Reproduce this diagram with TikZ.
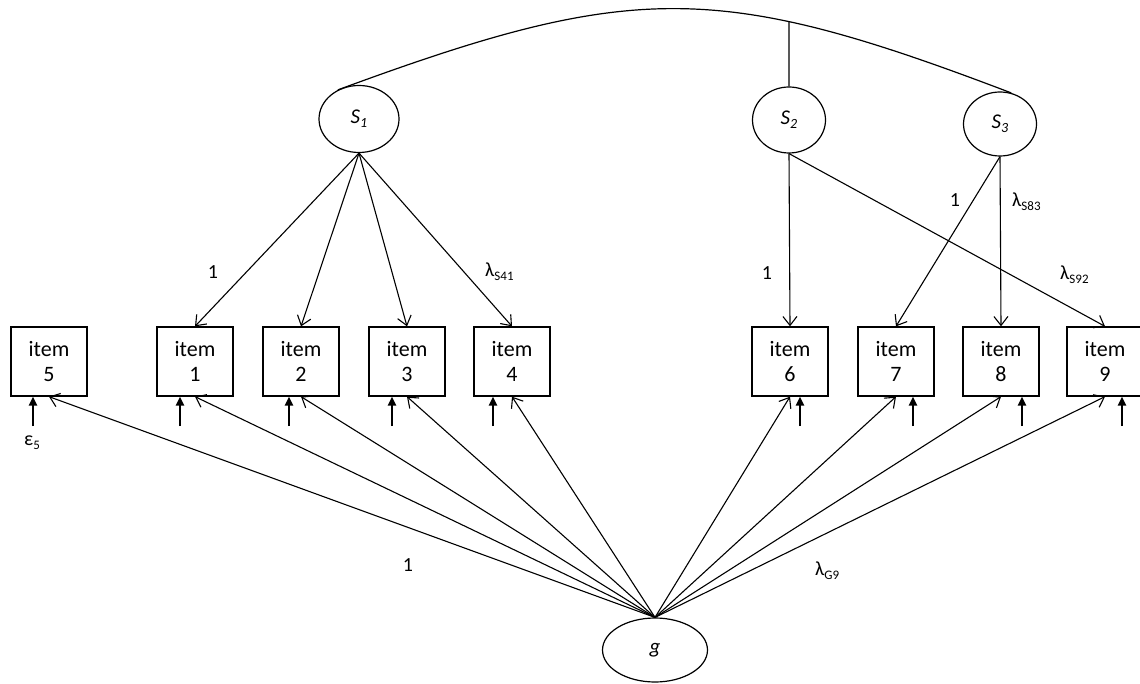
\documentclass[tikz,border=0pt]{standalone}
\usepackage{fontspec}
\setmainfont{Carlito}
\usetikzlibrary{arrows.meta,shapes.geometric,intersections}
\newcommand\lsub[1]{\raisebox{-0.45ex}{\fontsize{13}{13}\selectfont #1}}
\newcommand\ssub[1]{\raisebox{-0.4ex}{\fontsize{14}{14}\selectfont #1}}
\begin{document}
\begin{tikzpicture}[x=1pt,y=-1pt,
  item/.style={draw,line width=1.3pt,minimum width=76pt,minimum height=69pt,inner sep=0pt,align=center,font=\fontsize{22}{25}\selectfont},
  latent/.style={draw,ellipse,line width=1.2pt,inner sep=0pt,font=\fontsize{21}{22}\selectfont\itshape},
  load/.style={line width=1.1pt,-{Straight Barb[length=9pt,width=14pt,line width=1.1pt]}},
  err/.style={line width=2.4pt,-{Triangle[length=9pt,width=8pt]}},
  lbl/.style={font=\fontsize{20}{22}\selectfont,inner sep=0pt},
  cov/.style={line width=1.2pt},
]
\useasboundingbox (0,0) rectangle (1140,684);

% latent factors
\node[latent,minimum width=80pt,minimum height=67pt] (S1) at (359,119) {S\ssub{1}};
\node[latent,minimum width=73pt,minimum height=66pt] (S2) at (789,120) {S\ssub{2}};
\node[latent,minimum width=73pt,minimum height=64pt] (S3) at (1000,124) {S\ssub{3}};
\node[latent,minimum width=105pt,minimum height=64pt] (g) at (655,650) {g};

% items
\node[item] (i5) at (49,361.5) {item\\5};
\node[item] (i1) at (195,361.5) {item\\1};
\node[item] (i2) at (301,361.5) {item\\2};
\node[item] (i3) at (407,361.5) {item\\3};
\node[item] (i4) at (512,361.5) {item\\4};
\node[item] (i6) at (790,361.5) {item\\6};
\node[item] (i7) at (896,361.5) {item\\7};
\node[item] (i8) at (1001,361.5) {item\\8};
\node[item] (i9) at (1105,361.5) {item\\9};

% covariance arc between specific factors
\draw[cov,name path=arc] (S1.126) .. controls (633,-19) and (718,-19) .. (S3.70);
\path[name path=vl] (S2.north) -- ++(0,-120);
\draw[cov,name intersections={of=arc and vl,by=X}] (S2.north) -- (X);

% specific loadings
\draw[load] (S1.south) -- (i1.north);
\draw[load] (S1.south) -- (i2.north);
\draw[load] (S1.south) -- (i3.north);
\draw[load] (S1.south) -- (i4.north);
\draw[load] (S2.south) -- (i6.north);
\draw[load] (S2.south) -- (i9.north);
\draw[load] (S3.south) -- (i7.north);
\draw[load] (S3.south) -- (i8.north);

% general loadings
\foreach \n in {i5,i1,i2,i3,i4,i6,i7,i8,i9}
  \draw[load] (g.north) -- (\n.south);

% error terms
\coordinate (e5) at (33,426);
\coordinate (e1) at (180,426);
\coordinate (e2) at (289,426);
\coordinate (e3) at (392,426);
\coordinate (e4) at (493,426);
\coordinate (e6) at (800,426);
\coordinate (e7) at (913,426);
\coordinate (e8) at (1022,426);
\coordinate (e9) at (1122,426);
\draw[err] (e5) -- (e5 |- i5.south);
\draw[err] (e1) -- (e1 |- i1.south);
\draw[err] (e2) -- (e2 |- i2.south);
\draw[err] (e3) -- (e3 |- i3.south);
\draw[err] (e4) -- (e4 |- i4.south);
\draw[err] (e6) -- (e6 |- i6.south);
\draw[err] (e7) -- (e7 |- i7.south);
\draw[err] (e8) -- (e8 |- i8.south);
\draw[err] (e9) -- (e9 |- i9.south);

% labels
\node[lbl] (l1) at (213,272) {1};
\node[lbl,anchor=west] (l41) at (485,272) {λ\lsub{S41}};
\node[lbl] (l6) at (767,273) {1};
\node[lbl] (l7) at (955,200) {1};
\node[lbl,anchor=west] (l83) at (1012,202) {λ\lsub{S83}};
\node[lbl,anchor=west] (l92) at (1060,275) {λ\lsub{S92}};
\node[lbl] (lg1) at (408,565) {1};
\node[lbl,anchor=west] (lg9) at (815,571) {λ\lsub{G9}};
\node[lbl,anchor=west] (le5) at (24,443) {ε\lsub{5}};
\end{tikzpicture}
\end{document}
